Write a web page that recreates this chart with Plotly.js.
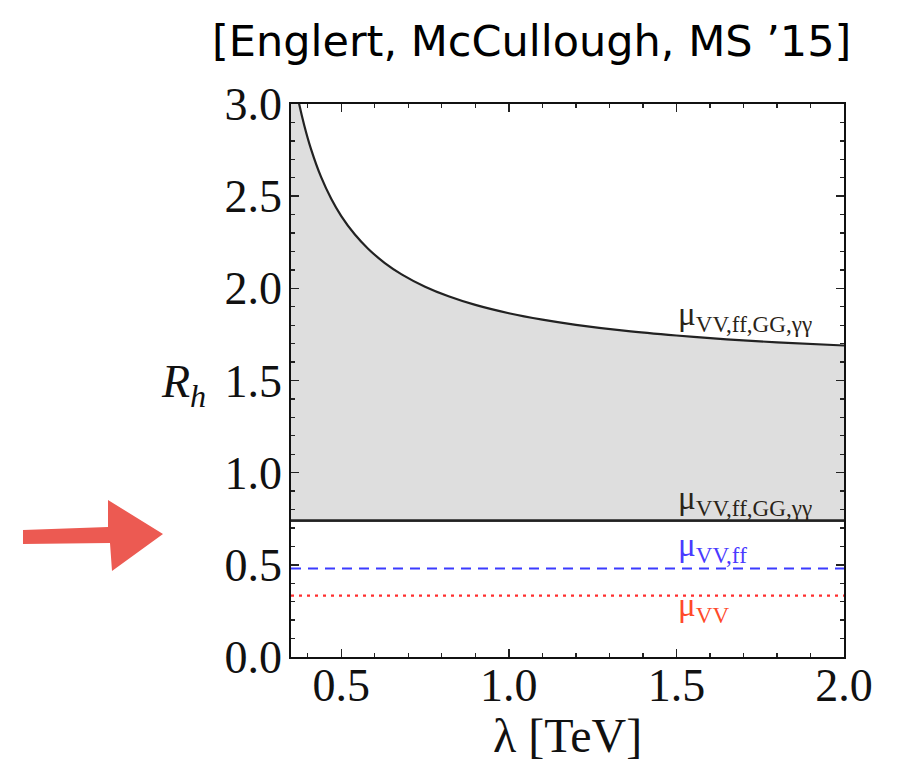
<!DOCTYPE html>
<html>
<head>
<meta charset="utf-8">
<script src="https://cdn.plot.ly/plotly-3.0.1.min.js"></script>
<style>html,body{margin:0;padding:0;background:#fff;}</style>
</head>
<body>
<div id="chart" style="width:897px;height:763px;"></div>
<script>
// ---- data ----
const lambdaCurve = [0.35, 0.37, 0.39, 0.41, 0.44, 0.47, 0.50, 0.54, 0.58, 0.63, 0.68, 0.75, 0.82, 0.90, 1.00, 1.10, 1.20, 1.35, 1.50, 1.65, 1.80, 2.00];
const rCurve      = [3.236, 3.037, 2.881, 2.754, 2.603, 2.486, 2.392, 2.293, 2.215, 2.137, 2.076, 2.009, 1.957, 1.910, 1.865, 1.830, 1.802, 1.769, 1.744, 1.723, 1.707, 1.690];
const lambdaRange = [0.35, 2.0];
const muAll  = 0.74;   // mu_{VV,ff,GG,gamma gamma} lower bound
const muVVff = 0.48;   // mu_{VV,ff}
const muVV   = 0.333;  // mu_{VV}
const xTickVals = [0.5, 1.0, 1.5, 2.0];
const xTickText = ["0.5", "1.0", "1.5", "2.0"];
const yTickVals = [0.0, 0.5, 1.0, 1.5, 2.0, 2.5, 3.0];
const yTickText = ["0.0", "0.5", "1.0", "1.5", "2.0", "2.5", "3.0"];
const labelAll = "μ<sub>VV,ff,GG,γγ</sub>";
const labelVVff = "μ<sub>VV,ff</sub>";
const labelVV = "μ<sub>VV</sub>";
const citation = "[Englert, McCullough, MS ’15]";

// ---- layout helpers (pixel -> paper) ----
const W = 897, H = 763;
const M = {l: 291, r: 53, t: 104, b: 106};
const PW = W - M.l - M.r, PH = H - M.t - M.b;
const px = x => (x - M.l) / PW;
const py = y => (H - M.b - y) / PH;

const serif = "Liberation Serif, Times New Roman, serif";

const traces = [
  {x: lambdaRange, y: lambdaRange.map(() => muAll), mode: 'lines',
   line: {color: '#222', width: 2.2}, hoverinfo: 'skip', showlegend: false},
  {x: lambdaCurve, y: rCurve, mode: 'lines', fill: 'tonexty', fillcolor: '#dedede',
   line: {color: '#222', width: 2.2, shape: 'spline', smoothing: 1}, hoverinfo: 'skip', showlegend: false},
  {x: lambdaRange, y: lambdaRange.map(() => muAll), mode: 'lines',
   line: {color: '#222', width: 2.2}, hoverinfo: 'skip', showlegend: false},
  {x: lambdaRange, y: lambdaRange.map(() => muVVff), mode: 'lines',
   line: {color: '#3b3bff', width: 2.2, dash: '10px,7px'}, hoverinfo: 'skip', showlegend: false},
  {x: lambdaRange, y: lambdaRange.map(() => muVV), mode: 'lines',
   line: {color: '#ff2f2f', width: 2.2, dash: '3px,5px'}, hoverinfo: 'skip', showlegend: false}
];

const arrowPts = [[23,530],[108,527],[108,500],[163,534],[112,571],[110,543],[23,544]];
const arrowPath = 'M ' + arrowPts.map(p => px(p[0]).toFixed(5) + ',' + py(p[1]).toFixed(5)).join(' L ') + ' Z';

const axisCommon = {
  showline: true, linecolor: '#111', linewidth: 1.8, mirror: 'ticks',
  ticks: 'inside', ticklen: 8, tickwidth: 1.5, tickcolor: '#222',
  showgrid: false, zeroline: false, fixedrange: true,
  tickfont: {family: serif, size: 46, color: '#111'},
  minor: {ticks: 'inside', ticklen: 4, tickwidth: 1.3, tickcolor: '#222', dtick: 0.1, tick0: 0, showgrid: false}
};

const layout = {
  width: W, height: H,
  margin: M,
  paper_bgcolor: '#fff', plot_bgcolor: '#fff',
  xaxis: Object.assign({}, axisCommon, {range: [0.35, 2.0], tickmode: 'array', tickvals: xTickVals, ticktext: xTickText, ticklabelstandoff: -13}),
  yaxis: Object.assign({}, axisCommon, {range: [0, 3], tickmode: 'array', tickvals: yTickVals, ticktext: yTickText, ticklabelstandoff: -2}),
  shapes: [
    {type: 'path', xref: 'paper', yref: 'paper', path: arrowPath, fillcolor: '#ec5a52', line: {width: 0}, layer: 'above'}
  ],
  annotations: [
    {xref: 'paper', yref: 'paper', x: px(531), y: py(41), text: citation, showarrow: false,
     font: {family: 'DejaVu Sans, sans-serif', size: 43, color: '#000'}, xanchor: 'center', yanchor: 'middle'},
    {xref: 'paper', yref: 'paper', x: px(183), y: py(385), text: '<i>R<sub>h</sub></i>', showarrow: false,
     font: {family: serif, size: 46, color: '#111'}, xanchor: 'center', yanchor: 'middle'},
    {xref: 'paper', yref: 'paper', x: 0.5, y: py(735), text: 'λ [TeV]', showarrow: false,
     font: {family: serif, size: 48, color: '#111'}, xanchor: 'center', yanchor: 'middle'},
    {xref: 'x', yref: 'y', x: 1.5, y: 1.845, text: labelAll, showarrow: false, xanchor: 'left', yanchor: 'middle',
     font: {family: serif, size: 33, color: '#2a2418'}},
    {xref: 'x', yref: 'y', x: 1.5, y: 0.85, text: labelAll, showarrow: false, xanchor: 'left', yanchor: 'middle',
     font: {family: serif, size: 33, color: '#2a2418'}},
    {xref: 'x', yref: 'y', x: 1.5, y: 0.592, text: labelVVff, showarrow: false, xanchor: 'left', yanchor: 'middle',
     font: {family: serif, size: 33, color: '#4a3aff'}},
    {xref: 'x', yref: 'y', x: 1.5, y: 0.268, text: labelVV, showarrow: false, xanchor: 'left', yanchor: 'middle',
     font: {family: serif, size: 33, color: '#ff4a2a'}}
  ]
};

Plotly.newPlot('chart', traces, layout, {staticPlot: true, displayModeBar: false});
</script>
</body>
</html>
